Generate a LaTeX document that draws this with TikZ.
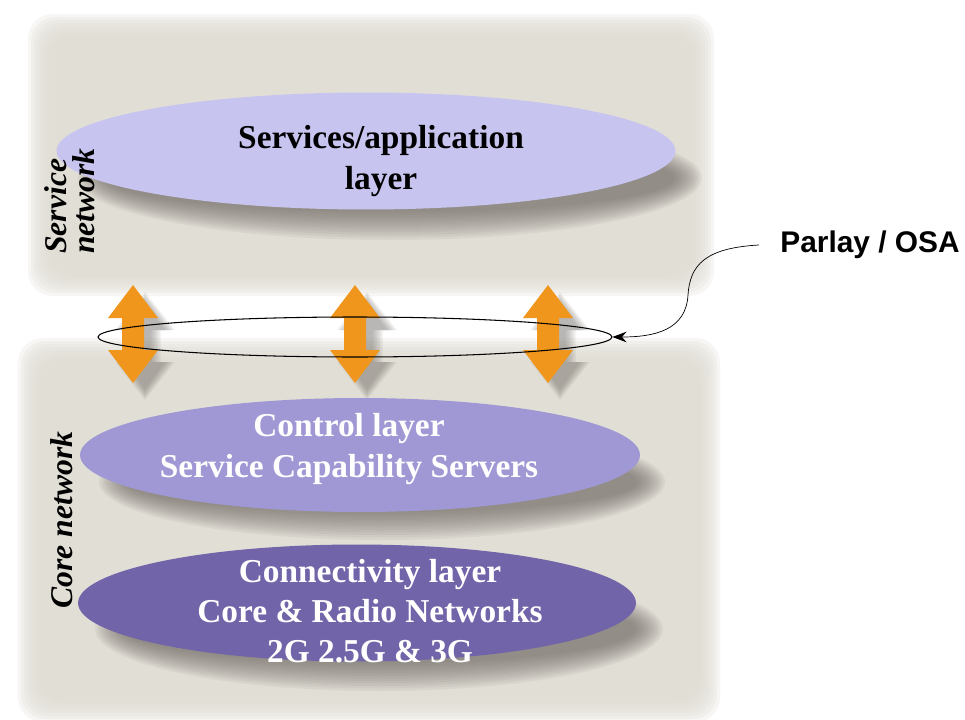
\documentclass[tikz,border=0pt]{standalone}
\usepackage{fontspec}
\setmainfont{Liberation Serif}
\newfontfamily\osafont{Liberation Sans}
\usetikzlibrary{shapes.geometric, positioning, calc, arrows.meta}

\definecolor{panelgray}{RGB}{224,220,212}
\definecolor{applilac}{RGB}{200,196,240}
\definecolor{ctrllilac}{RGB}{160,152,212}
\definecolor{connpurple}{RGB}{114,100,168}
\definecolor{osaorange}{RGB}{240,150,28}
\definecolor{shadowgray}{RGB}{105,100,95}

\tikzset{
  layer/.style={ellipse, inner sep=0pt},
  layertext/.style={font=\fontsize{19}{22.8}\selectfont\bfseries, align=center},
  sidetext/.style={font=\fontsize{18}{16}\selectfont\bfseries\itshape, rotate=90, align=left},
}

\begin{document}
\begin{tikzpicture}[x=0.02cm, y=-0.02cm, >=stealth]
    \useasboundingbox (0, 0) rectangle (965, 720);
    \fill[white] (0, 0) rectangle (965, 720);

    % soft grey panels
    \foreach \i in {0,...,7} {
        \fill[panelgray, opacity=0.25, rounded corners=14pt] (28+3*\i, 14+3*\i) rectangle (714-3*\i, 296-3*\i);
        \fill[panelgray, opacity=0.25, rounded corners=14pt] (18+3*\i, 338+3*\i) rectangle (720-3*\i, 722-3*\i);
    }

    % blurred shadows
    \foreach \i in {0,...,11} {
        \fill[shadowgray, opacity=0.08] (390, 178) ellipse ({312-2.5*\i} and {62-2.5*\i});
        \fill[shadowgray, opacity=0.08] (382, 482) ellipse ({283-2.5*\i} and {58-2.5*\i});
        \fill[shadowgray, opacity=0.08] (379, 629) ellipse ({284-2.5*\i} and {62-2.5*\i});
    }

    % orange double arrows
    \foreach \ax in {133, 355, 548} {
        \foreach \i in {0,...,7}
            \fill[shadowgray, opacity=0.07] (\ax+12, 292+1.5*\i) -- (\ax+42-1.5*\i, 330) -- (\ax+28-1.5*\i, 330) -- (\ax+28-1.5*\i, 362) -- (\ax+42-1.5*\i, 362) -- (\ax+12, 400-1.5*\i) -- (\ax-18+1.5*\i, 362) -- (\ax-4+1.5*\i, 362) -- (\ax-4+1.5*\i, 330) -- (\ax-18+1.5*\i, 330) -- cycle;
        \fill[osaorange] (\ax, 285) -- (\ax+25, 318) -- (\ax+11, 318) -- (\ax+11, 350) -- (\ax+25, 350) -- (\ax, 383) -- (\ax-25, 350) -- (\ax-11, 350) -- (\ax-11, 318) -- (\ax-25, 318) -- cycle;
    }

    % layers
    \node[layer, fill=applilac, minimum width=12.38cm, minimum height=2.34cm] (app) at (366, 151) {};
    \node[layer, fill=ctrllilac, minimum width=11.2cm, minimum height=2.28cm] (ctrl) at (360, 455) {};
    \node[layer, fill=connpurple, minimum width=11.16cm, minimum height=2.34cm] (conn) at (357, 603) {};

    \node[layertext] (apptext) at (381, 161) {Services/application\\layer};
    \node[layertext, white] (ctrltext) at (349, 449) {Control layer\\Service Capability Servers};
    \node[layertext, white] (conntext) at (370, 611) {Connectivity layer\\Core \& Radio Networks\\2G 2.5G \& 3G};

    \node[sidetext] (svcnet) at (70, 201) {Service\\network};
    \node[sidetext] (corenet) at (62, 520) {Core network};

    % interface ring and label
    \node[draw, semithick, ellipse, inner sep=0pt, minimum width=10.28cm, minimum height=0.8cm] (ring) at (355, 337) {};
    \node[font=\osafont\fontsize{17}{20}\selectfont\bfseries, inner xsep=12pt] (parlay) at (870, 245) {Parlay / OSA};

    \draw[-{Stealth[length=8pt, width=6pt]}] (parlay.west) .. controls (705, 248) and (690, 265) .. (688, 295) .. controls (686, 330) and (655, 337) .. (ring.east);

  \end{tikzpicture}
\end{document}
